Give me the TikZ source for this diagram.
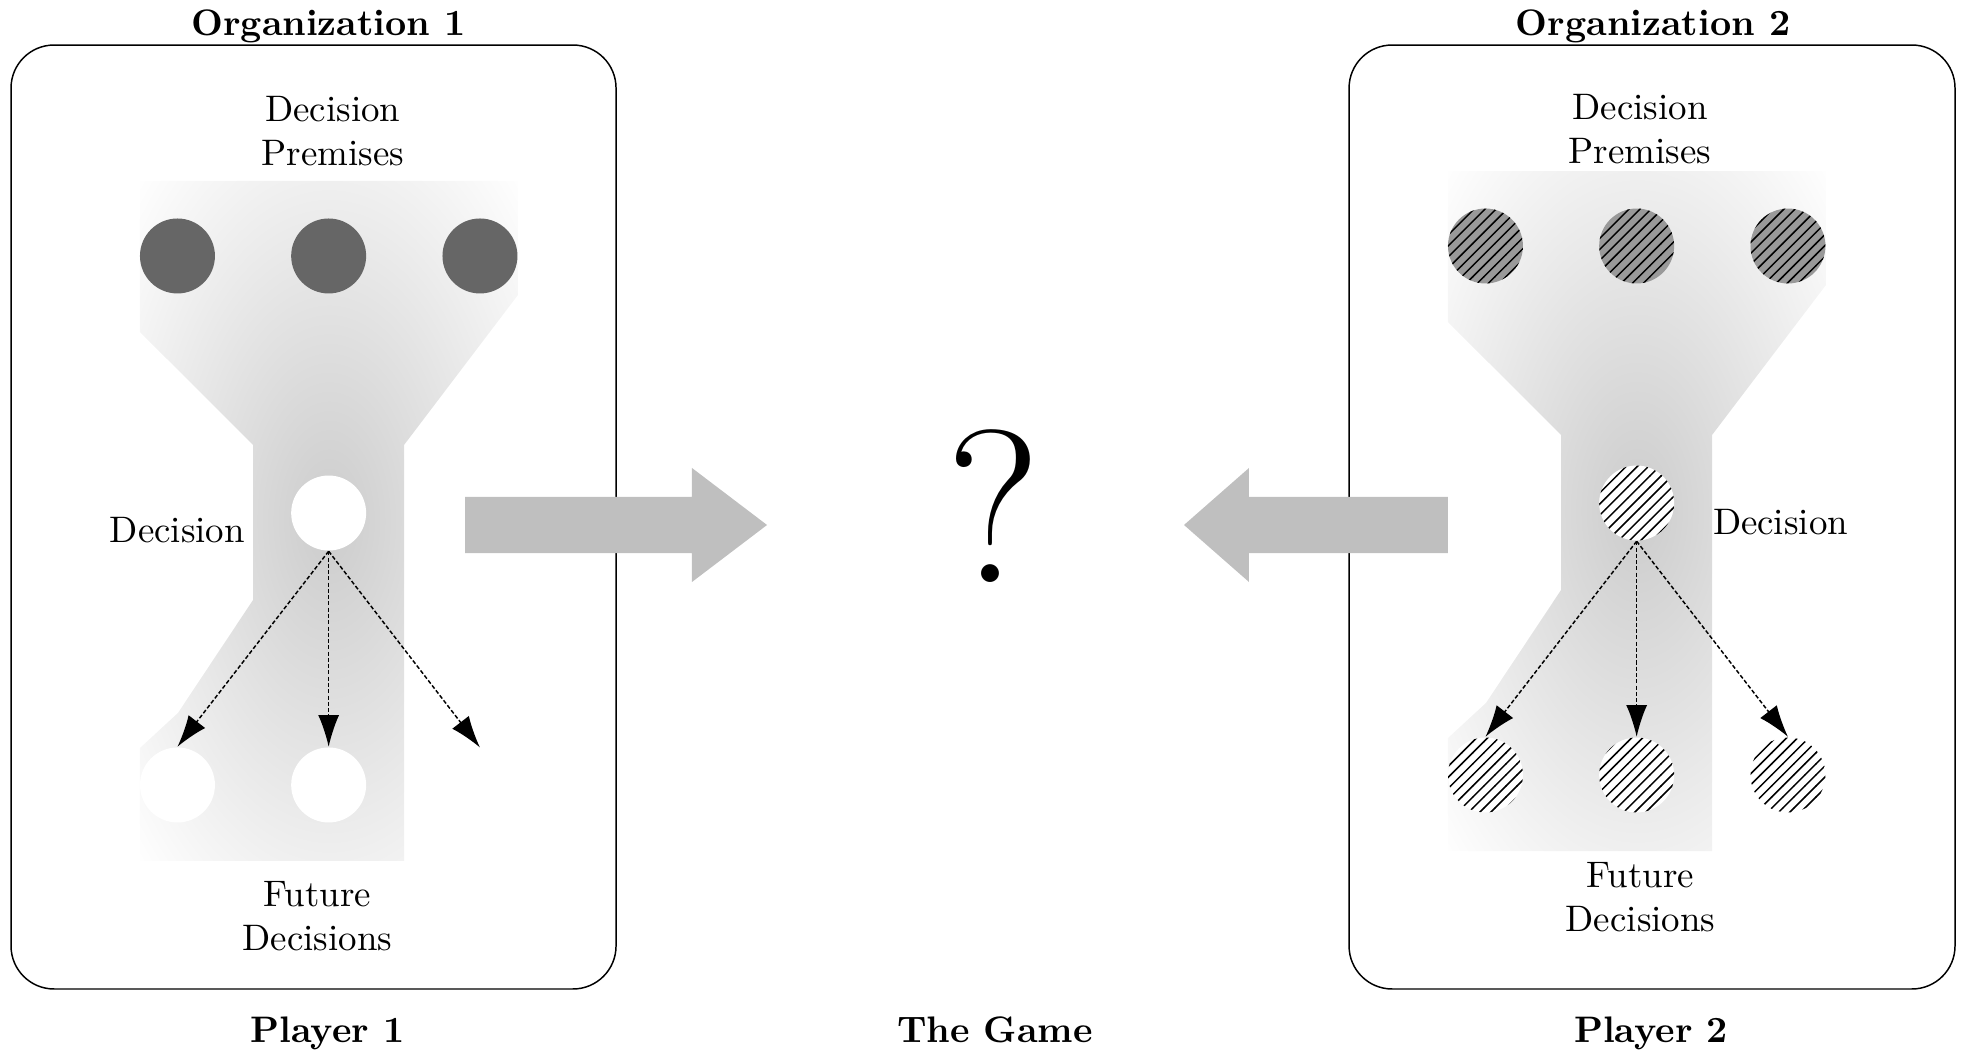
\documentclass[tikz,border=0pt]{standalone}
\usetikzlibrary{arrows.meta, patterns}

\colorlet{funnelgray}{black!20}
\pgfdeclareradialshading{funnelshade}{\pgfpoint{0bp}{0bp}}{%
    color(0bp)=(funnelgray); color(36bp)=(white); color(50bp)=(white)}

\begin{document}
\begin{tikzpicture}[%
        > = {Latex[length = 8.6pt, width = 5.7pt]},
        dot/.style = {circle, minimum size = 0.714cm, inner sep = 0pt},
        premise/.style = {dot, fill = black!60},
        hatched/.style = {dot, preaction = {fill = #1}, pattern = north east lines},
        choice/.style = {->, thin, dash pattern = on 1.1pt off 0.6pt},
        orgbox/.style = {draw, rounded corners = 0.41cm},
        txt/.style = {align = center, inner sep = 0pt},
        title/.style = {font = \bfseries, anchor = base},
        bigarrow/.style = {fill = lightgray}
    ]
        \useasboundingbox (0.0, 0.0) rectangle (18.695, 10.019);

        % Command for the shaded funnel behind the decisions.
        \newcommand*{\drawfunnel}{%
            \shade[shading = funnelshade]
                (1.333, 8.295) -- (4.933, 8.295) -- (4.933, 7.210)
                -- (3.848, 5.781) -- (3.848, 1.819) -- (1.333, 1.819)
                -- (1.333, 2.895) -- (1.695, 3.229) -- (2.410, 4.305)
                -- (2.410, 5.781) -- (1.333, 6.857) -- cycle;
        }

        \draw[orgbox] (0.105, 0.600) rectangle (5.867, 9.590);
        \draw[orgbox] (12.848, 0.600) rectangle (18.619, 9.590);

        \begin{scope}
            \drawfunnel;
            \node[premise] (L-p1) at (1.690, 7.581) {};
            \node[premise] (L-p2) at (3.130, 7.581) {};
            \node[premise] (L-p3) at (4.571, 7.581) {};
            \node[dot, fill = white] (L-d) at (3.130, 5.133) {};
            \node[dot, fill = white] (L-f1) at (1.690, 2.543) {};
            \node[dot, fill = white] (L-f2) at (3.130, 2.543) {};
            \coordinate (L-f3) at (4.571, 2.900);
            \draw[choice] (L-d.south) to (L-f1.north);
            \draw[choice] (L-d.south) to (L-f2.north);
            \draw[choice] (L-d.south) to (L-f3);
        \end{scope}

        \begin{scope}[xshift = 12.457cm, yshift = 0.095cm]
            \drawfunnel;
            \node[hatched = black!40] (R-p1) at (1.690, 7.581) {};
            \node[hatched = black!40] (R-p2) at (3.130, 7.581) {};
            \node[hatched = black!40] (R-p3) at (4.571, 7.581) {};
            \node[hatched = white] (R-d) at (3.130, 5.133) {};
            \node[hatched = white] (R-f1) at (1.690, 2.543) {};
            \node[hatched = white] (R-f2) at (3.130, 2.543) {};
            \node[hatched = white] (R-f3) at (4.571, 2.543) {};
            \draw[choice] (R-d.south) to (R-f1.north);
            \draw[choice] (R-d.south) to (R-f2.north);
            \draw[choice] (R-d.south) to (R-f3.north);
        \end{scope}

        % Arrows into the game
        \fill[bigarrow] (4.429, 5.286) -- (6.590, 5.286) -- (6.590, 5.562)
            -- (7.305, 5.019) -- (6.590, 4.476) -- (6.590, 4.752)
            -- (4.429, 4.752) -- cycle;
        \fill[bigarrow] (13.790, 5.286) -- (11.895, 5.286) -- (11.895, 5.562)
            -- (11.276, 5.019) -- (11.895, 4.476) -- (11.895, 4.752)
            -- (13.790, 4.752) -- cycle;

        \node[anchor = base, font = \fontsize{59}{60}\selectfont] (q) at (9.467, 4.467) {?};

        \node[txt] (L-prem) at (3.169, 8.767) {Decision\\Premises};
        \node[txt] (R-prem) at (15.619, 8.790) {Decision\\Premises};
        \node[anchor = base] (L-dec) at (1.690, 4.848) {Decision};
        \node[anchor = base] (R-dec) at (16.957, 4.928) {Decision};
        \node[txt] (L-fut) at (3.024, 1.295) {Future\\Decisions};
        \node[txt] (R-fut) at (15.624, 1.476) {Future\\Decisions};

        \node[title] (org1) at (3.130, 9.676) {Organization 1};
        \node[title] (org2) at (15.743, 9.676) {Organization 2};
        \node[title] (pl1) at (3.119, 0.095) {Player 1};
        \node[title] (game) at (9.476, 0.095) {The Game};
        \node[title] (pl2) at (15.724, 0.095) {Player 2};
        \let\drawfunnel\undefined
    \end{tikzpicture}
\end{document}
